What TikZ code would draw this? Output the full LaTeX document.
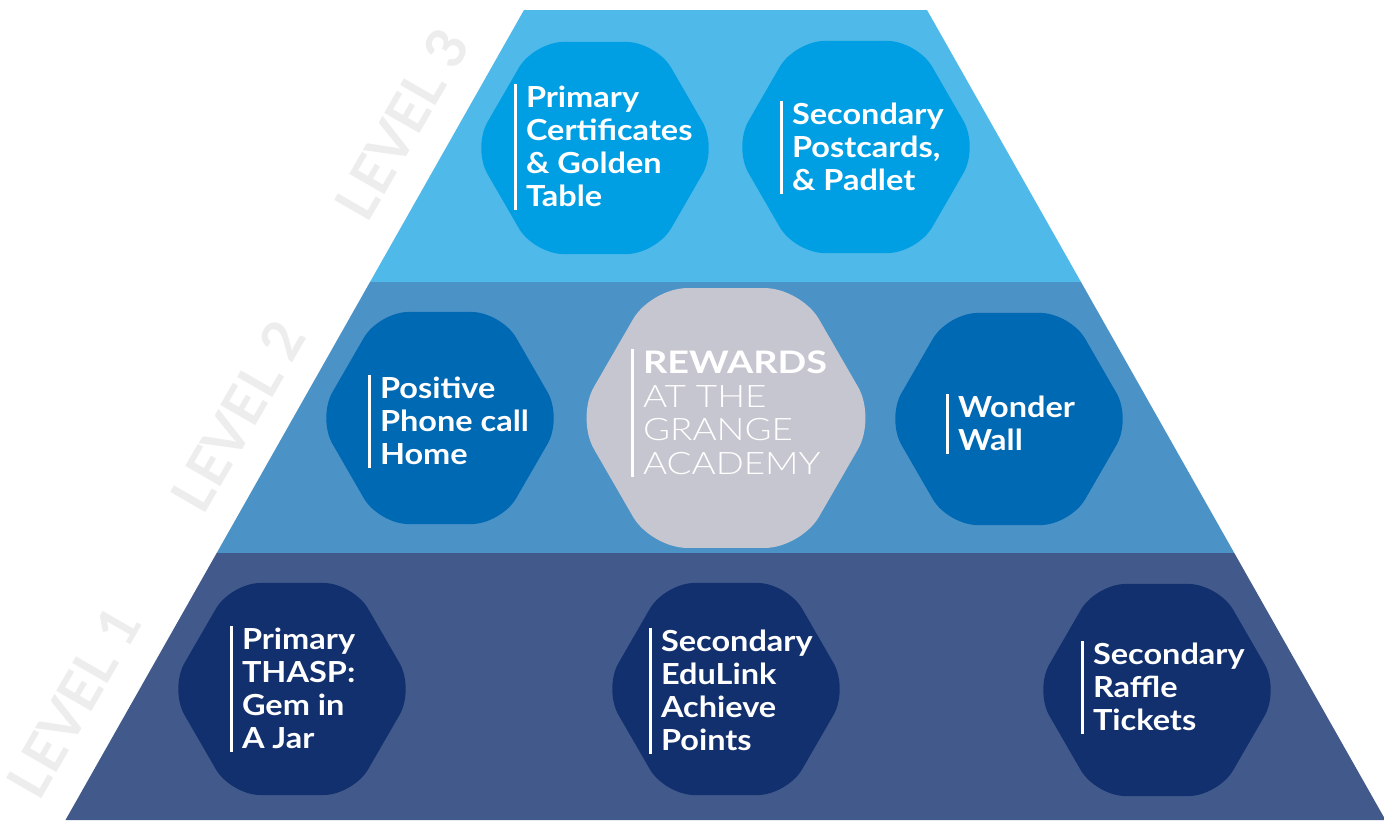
\documentclass[tikz,border=0pt]{standalone}
\usepackage{fontspec}
\setmainfont{Lato}
\newfontfamily\hexfont{Lato}[FakeStretch=1.12]
\newfontfamily\centerfont{Lato}[FakeStretch=1.22]
\newfontfamily\lightfont{Lato Light}[FakeStretch=1.19]
\usetikzlibrary{shapes.geometric}
\definecolor{bandA}{HTML}{4FB9E9}
\definecolor{bandB}{HTML}{4B92C7}
\definecolor{bandC}{HTML}{425A8B}
\definecolor{hexA}{HTML}{009FE3}
\definecolor{hexB}{HTML}{0069B3}
\definecolor{hexC}{HTML}{13306E}
\definecolor{hexG}{HTML}{C6C6D0}
\definecolor{lvgray}{HTML}{EDEDED}
\tikzset{
  hexa/.style={regular polygon, regular polygon sides=6, minimum size=245pt,
    inner sep=0pt, outer sep=0pt, rounded corners=30pt},
  hexbig/.style={regular polygon, regular polygon sides=6, minimum size=300pt,
    inner sep=0pt, outer sep=0pt, rounded corners=36pt},
  lbl/.style={anchor=north west, inner sep=0pt, outer sep=0pt, align=left, text=white,
    font=\hexfont\bfseries\fontsize{29}{33}\selectfont},
  bar/.style={draw=white, line width=3.5pt},
  lvl/.style={rotate=60, inner sep=0pt, text=lvgray,
    font=\bfseries\fontsize{56}{56}\selectfont}
}
\newcommand\barfor[1]{\draw[bar] ([xshift=-10.5pt,yshift=2pt]#1.north west) -- ([xshift=-10.5pt,yshift=-3pt]#1.south west);}
\begin{document}
\begin{tikzpicture}[x=1pt,y=-1pt]
\useasboundingbox (0,0) rectangle (1384,820);
\clip (0,0) rectangle (1384,820);
\fill[white] (0,0) rectangle (1384,820);
% level labels
\node[lvl] (lv3) at (402,124) {LEVEL 3};
\node[lvl] (lv2) at (238,416) {LEVEL 2};
\node[lvl] (lv1) at (74,702) {LEVEL 1};
% bands
\fill[bandA] (524,10) -- (927,10) -- (1081,282) -- (370,282) -- cycle;
\fill[bandB] (370,282) -- (1081,282) -- (1234.3,553) -- (216.7,553) -- cycle;
\fill[bandC] (216.7,553) -- (1234.3,553) -- (1385.5,820) -- (65.5,820) -- cycle;
% hexagons
\node[hexa, fill=hexA] (h3a) at (595,148) {};
\node[hexa, fill=hexA] (h3b) at (856,147) {};
\node[hexa, fill=hexB] (h2a) at (440,418) {};
\node[hexbig, fill=hexG] (hc) at (726,418) {};
\node[hexa, fill=hexB] (h2b) at (1009,419) {};
\node[hexa, fill=hexC] (h1a) at (292,689) {};
\node[hexa, fill=hexC] (h1b) at (726,689) {};
\node[hexa, fill=hexC] (h1c) at (1157,690) {};
% labels
\node[lbl] (t3a) at (526,86) {Primary\\Certificates\\\& Golden\\Table};
\node[lbl] (t3b) at (792,103) {Secondary\\Postcards,\\\& Padlet};
\node[lbl] (t2a) at (380,377) {Positive\\Phone call\\Home};
\node[lbl] (t2b) at (958,396) {Wonder\\Wall};
\node[lbl, font=\centerfont\fontsize{31}{33.5}\selectfont] (tc) at (643,351)
  {\bfseries REWARDS\\{\lightfont AT THE}\\{\lightfont GRANGE}\\{\lightfont ACADEMY}};
\node[lbl] (t1a) at (242,628) {Primary\\THASP:\\Gem in\\A Jar};
\node[lbl] (t1b) at (661,630) {Secondary\\EduLink\\Achieve\\Points};
\node[lbl] (t1c) at (1093,643) {Secondary\\Raffle\\Tickets};
\barfor{t3a}\barfor{t3b}\barfor{t2a}\barfor{t2b}\barfor{tc}
\barfor{t1a}\barfor{t1b}\barfor{t1c}
\end{tikzpicture}
\end{document}
